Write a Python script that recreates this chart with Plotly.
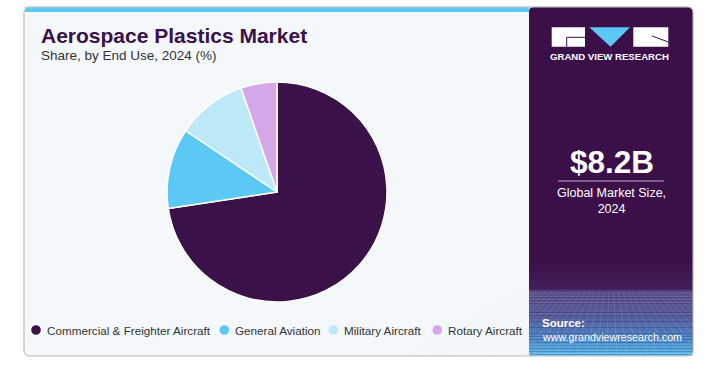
import plotly.graph_objects as go

W, H = 721, 366

# ---- data ----
categories = ["Commercial & Freighter Aircraft", "General Aviation", "Military Aircraft", "Rotary Aircraft"]
shares = [72.6, 11.8, 10.3, 5.3]
colors = ["#3a1148", "#5bc8f5", "#bde8f8", "#d4a7e8"]
market_size = "$8.2B"
market_label = "Global Market Size,<br>2024"


def px(x):
    return x / W


def py(y):
    return 1 - y / H


def rect(x0, y0, x1, y1, fill, line=None, lw=0, layer="below"):
    return dict(type="rect", xref="paper", yref="paper", x0=px(x0), x1=px(x1), y0=py(y1), y1=py(y0),
                fillcolor=fill, line=dict(width=lw, color=line or fill), layer=layer)


def path(pts, fill=None, line="rgba(0,0,0,0)", lw=0, close=True, layer="above"):
    d = "M " + " L ".join(f"{px(x):.5f},{py(y):.5f}" for x, y in pts)
    if close:
        d += " Z"
    s = dict(type="path", xref="paper", yref="paper", path=d, line=dict(color=line, width=lw), layer=layer)
    if fill:
        s["fillcolor"] = fill
    return s


def rrect_path(x0, y0, x1, y1, r):
    def P(x, y):
        return f"{px(x):.5f},{py(y):.5f}"
    return (f"M {P(x0 + r, y0)} L {P(x1 - r, y0)} Q {P(x1, y0)} {P(x1, y0 + r)} "
            f"L {P(x1, y1 - r)} Q {P(x1, y1)} {P(x1 - r, y1)} L {P(x0 + r, y1)} "
            f"Q {P(x0, y1)} {P(x0, y1 - r)} L {P(x0, y0 + r)} Q {P(x0, y0)} {P(x0 + r, y0)} Z")


shapes = []
# card
shapes.append(dict(type="path", xref="paper", yref="paper", path=rrect_path(24, 7, 693, 356, 6),
                   fillcolor="#f4f8fb", line=dict(color="#c8c8c8", width=1), layer="below"))
# cyan top bar
shapes.append(rect(25, 7, 529, 12, "#5bc8f5"))
# right panel
shapes.append(dict(type="path", xref="paper", yref="paper", path=rrect_path(529, 7, 693, 356, 5),
                   fillcolor="#3b1049", line=dict(width=0), layer="below"))


def hex2rgb(h):
    h = h.lstrip("#")
    return tuple(int(h[i:i + 2], 16) for i in (0, 2, 4))


stops = [(260, "#3b1049"), (288, "#42205a"), (291, "#574a84"), (318, "#52609e"), (338, "#4a8acb"), (355, "#5cc3ef")]
y = 260
while y < 355:
    for (ya, ca), (yb, cb) in zip(stops[:-1], stops[1:]):
        if ya <= y < yb:
            t = (y - ya) / (yb - ya)
            a, b = hex2rgb(ca), hex2rgb(cb)
            c = tuple(round(a[i] + (b[i] - a[i]) * t) for i in range(3))
            break
    shapes.append(rect(529, y, 692.5, y + 1.6, "rgb(%d,%d,%d)" % c))
    y += 1.5

# perspective grid texture
gl = "rgba(200,210,255,0.25)"
hy = 290
yy, step = 292, 2.2
while yy < 356:
    shapes.append(path([(529, yy), (692.5, yy)], line=gl, lw=0.6, close=False, layer="below"))
    yy += step
    step *= 1.12
vx = 611
for xb in range(300, 940, 16):
    x_top = vx + (xb - vx) * 0.3
    shapes.append(path([(x_top, hy + 2), (xb, 420)], line=gl, lw=0.6, close=False, layer="below"))
# mask grid outside the panel
shapes.append(rect(693.5, 280, 721, 366, "white", layer="below"))
shapes.append(rect(520, 356.5, 721, 366, "white", layer="below"))
shapes.append(rect(0, 356.5, 721, 366, "white", layer="below"))
shapes.append(dict(type="path", xref="paper", yref="paper", path=rrect_path(24, 7, 693, 356, 6),
                   fillcolor="rgba(0,0,0,0)", line=dict(color="#c8c8c8", width=1), layer="below"))

# logo
shapes.append(rect(551.7, 27.3, 585, 46.7, "white", layer="above"))
shapes.append(path([(566.7, 46.7), (566.7, 37.3), (585, 37.3)], line="#3b1049", lw=1, close=False))
shapes.append(path([(589.3, 27.3), (630, 27.3), (610.5, 46.7)], fill="#5bc8f5"))
shapes.append(rect(633.3, 27.3, 668.3, 46.7, "white", layer="above"))
shapes.append(path([(652, 36), (668.3, 42)], line="#3b1049", lw=1, close=False))

# divider under market size
shapes.append(path([(558, 181), (664, 181)], line="#b8b0c0", lw=1, close=False))

# legend markers
leg_x = [36, 224.3, 333.3, 437.3]
leg_y = 330
for xm, c in zip(leg_x, colors):
    shapes.append(dict(type="circle", xref="paper", yref="paper", xsizemode="pixel", ysizemode="pixel",
                       xanchor=px(xm), yanchor=py(leg_y), x0=-4.8, x1=4.8, y0=-4.8, y1=4.8,
                       fillcolor=c, line=dict(width=0), layer="above"))

annotations = []


def text(x, y, s, size, color, xanchor="left", bold=False, family="Liberation Sans, Arial, sans-serif"):
    annotations.append(dict(xref="paper", yref="paper", x=px(x), y=py(y), text=(f"<b>{s}</b>" if bold else s),
                            showarrow=False, xanchor=xanchor, yanchor="middle",
                            font=dict(size=size, color=color, family=family), borderpad=0))


text(40, 35.5, "Aerospace Plastics Market", 21, "#3a1148", bold=True)
text(40, 56, "Share, by End Use, 2024 (%)", 13.5, "#333333")
for xm, cat in zip(leg_x, categories):
    text(xm + 10, leg_y, cat, 11.7, "#333333")

text(609.7, 56.5, "GRAND VIEW RESEARCH", 9.6, "#ffffff", xanchor="center", bold=True)
text(611.5, 162, market_size, 31.5, "#ffffff", xanchor="center", bold=True)
annotations.append(dict(xref="paper", yref="paper", x=px(611.5), y=py(200.5), text=market_label, showarrow=False,
                        xanchor="center", yanchor="middle", align="center",
                        font=dict(size=12.5, color="#ffffff", family="Liberation Sans, Arial, sans-serif")))
text(541, 323, "Source:", 11.5, "#ffffff", bold=True)
text(541, 337, "www.grandviewresearch.com", 10.7, "#ffffff")

cx, cy, r = 277, 192, 110
fig = go.Figure(go.Pie(
    labels=categories, values=shares, sort=False, direction="clockwise", rotation=0,
    marker=dict(colors=colors, line=dict(color="white", width=1.5)),
    textinfo="none", hoverinfo="label+percent", showlegend=False,
    domain=dict(x=[px(cx - r), px(cx + r)], y=[py(cy + r), py(cy - r)]),
))
fig.update_layout(width=W, height=H, margin=dict(l=0, r=0, t=0, b=0),
                  paper_bgcolor="white", plot_bgcolor="white",
                  shapes=shapes, annotations=annotations, showlegend=False)
fig.write_html("out.html", config={"displayModeBar": False},
               post_script="document.body.style.margin='0';document.body.style.overflow='hidden';")
